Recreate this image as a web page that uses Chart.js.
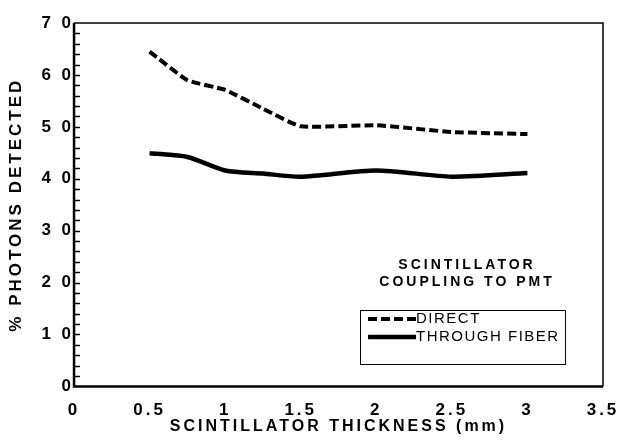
<!DOCTYPE html>
<html>
<head>
<meta charset="utf-8">
<script src="https://cdn.jsdelivr.net/npm/chart.js@4/dist/chart.umd.min.js"></script>
<style>
  html, body { margin: 0; padding: 0; background: #fff; }
  #wrap { width: 624px; height: 447px; }
</style>
</head>
<body>
<div id="wrap"><canvas id="myChart"></canvas></div>
<script>
// values
const thickness = [0.5, 0.75, 1, 1.25, 1.5, 2, 2.5, 3];
const direct = [64.5, 59.0, 57.1, 53.5, 50.1, 50.3, 49.0, 48.6];
const throughFiber = [44.9, 44.2, 41.6, 41.0, 40.4, 41.6, 40.4, 41.1];
const legendTitle = ["SCINTILLATOR", "COUPLING TO PMT"];

const FONT = "'Liberation Sans', Arial, Helvetica, sans-serif";

const toPoints = (ys) => thickness.map((x, i) => ({ x: x, y: ys[i] }));

// the scan uses widely spaced lettering everywhere
const spacing = {
  id: "spacing",
  beforeUpdate(chart) { chart.ctx.letterSpacing = "3px"; },
  beforeDraw(chart) { chart.ctx.letterSpacing = "3px"; },
};

// frame, inward y ticks and the boxed legend
const decorations = {
  id: "decorations",
  afterDatasetsDraw(chart) {
    const ctx = chart.ctx;
    const ca = chart.chartArea;
    const y = chart.scales.y;
    ctx.save();
    ctx.strokeStyle = "#000";

    // inward tick marks every 2 units
    ctx.lineWidth = 1.5;
    for (let v = 2; v < 70; v += 2) {
      const py = Math.round(y.getPixelForValue(v)) + 0.5;
      ctx.beginPath();
      ctx.moveTo(ca.left, py);
      ctx.lineTo(ca.left + 6, py);
      ctx.stroke();
    }

    // frame
    ctx.lineWidth = 1.5;
    ctx.beginPath();
    ctx.moveTo(ca.left, ca.top);
    ctx.lineTo(ca.right, ca.top);
    ctx.lineTo(ca.right, ca.bottom);
    ctx.stroke();
    ctx.lineWidth = 2.5;
    ctx.beginPath();
    ctx.moveTo(ca.left, ca.top);
    ctx.lineTo(ca.left, ca.bottom);
    ctx.lineTo(ca.right, ca.bottom);
    ctx.stroke();

    // legend title
    ctx.fillStyle = "#000";
    ctx.letterSpacing = "3px";
    ctx.font = "bold 14px " + FONT;
    ctx.textAlign = "center";
    ctx.textBaseline = "middle";
    legendTitle.forEach((t, i) => {
      ctx.fillText(t, ca.left + 393, ca.top + 242 + i * 17);
    });

    // legend box
    const bx = ca.left + 286, by = ca.top + 287, bw = 205, bh = 54;
    ctx.lineWidth = 1;
    ctx.strokeRect(bx + 0.5, by + 0.5, bw, bh);

    ctx.letterSpacing = "1.5px";
    ctx.font = "15px " + FONT;
    ctx.textAlign = "left";
    chart.data.datasets.forEach((ds, i) => {
      const ly = by + 9 + i * 18;
      ctx.save();
      ctx.lineWidth = ds.borderWidth;
      ctx.setLineDash(ds.borderDash || []);
      ctx.beginPath();
      ctx.moveTo(bx + 8, ly);
      ctx.lineTo(bx + 56, ly);
      ctx.stroke();
      ctx.restore();
      ctx.fillText(ds.label, bx + 56, ly);
    });
    ctx.restore();
  },
};

const ctx = document.getElementById("myChart").getContext("2d");
const chart = new Chart(ctx, {
  type: "line",
  data: {
    datasets: [
      {
        label: "DIRECT",
        data: toPoints(direct),
        borderColor: "#000",
        borderWidth: 4,
        borderDash: [9, 4],
        pointRadius: 0,
        tension: 0.15,
        fill: false,
      },
      {
        label: "THROUGH FIBER",
        data: toPoints(throughFiber),
        borderColor: "#000",
        borderWidth: 4.5,
        pointRadius: 0,
        tension: 0.25,
        fill: false,
      },
    ],
  },
  options: {
    responsive: true,
    maintainAspectRatio: false,
    animation: false,
    layout: { padding: { top: 23, right: 21, left: 6, bottom: 11 } },
    plugins: {
      legend: { display: false },
      tooltip: { enabled: false },
    },
    scales: {
      x: {
        type: "linear",
        min: 0,
        max: 3.5,
        grid: { display: false, drawTicks: false },
        border: { display: false },
        afterFit: (axis) => { axis.paddingRight = 15; },
        ticks: {
          stepSize: 0.5,
          color: "#000",
          padding: 14,
          maxRotation: 0,
          font: { family: FONT, size: 17, weight: "bold" },
          callback: (v) => String(v),
        },
        title: {
          display: true,
          text: "SCINTILLATOR THICKNESS (mm)",
          color: "#000",
          padding: { top: -18, bottom: 0 },
          font: { family: FONT, size: 16, weight: "bold" },
        },
      },
      y: {
        min: 0,
        max: 70,
        grid: { display: false, drawTicks: false },
        border: { display: false },
        ticks: {
          stepSize: 10,
          color: "#000",
          padding: 0,
          font: { family: FONT, size: 17, weight: "bold" },
          callback: (v) => String(v).split("").join(" "),
        },
        title: {
          display: true,
          text: "% PHOTONS DETECTED",
          color: "#000",
          padding: { top: 0, bottom: 15 },
          font: { family: FONT, size: 17, weight: "bold" },
        },
      },
    },
  },
  plugins: [spacing, decorations],
});
</script>
</body>
</html>
